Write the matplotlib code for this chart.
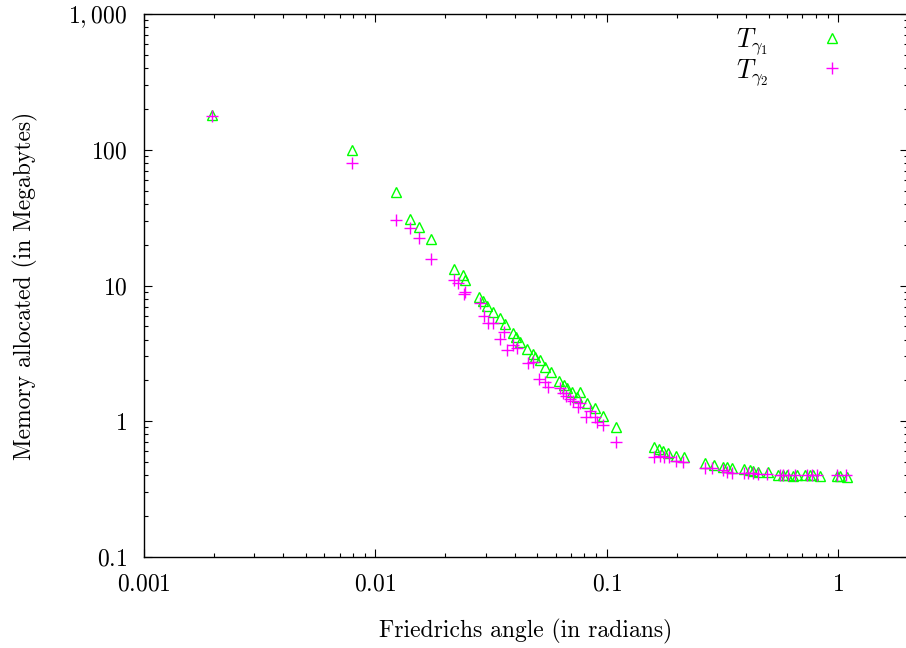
import matplotlib
matplotlib.use("Agg")
import matplotlib.pyplot as plt
from matplotlib.ticker import FixedLocator, FixedFormatter, LogLocator, NullFormatter

plt.rcParams['font.family'] = ['cmr10', 'DejaVu Sans']
plt.rcParams['mathtext.fontset'] = 'cm'
plt.rcParams['axes.formatter.use_mathtext'] = True

# angle (rad) / memory (MB)
g1_angle = [0.00197, 0.00792, 0.01227, 0.01409, 0.01541, 0.01731, 0.02195, 0.02380,
            0.02440, 0.02813, 0.02905, 0.03040, 0.03227, 0.03450, 0.03626, 0.03926,
            0.04065, 0.04209, 0.04524, 0.04776, 0.04887, 0.05136, 0.05398, 0.05712,
            0.06223, 0.06521, 0.06738, 0.07039, 0.07645, 0.07442, 0.08222, 0.08876,
            0.09581, 0.1094, 0.1596, 0.1682, 0.1740, 0.1840, 0.1987, 0.2158,
            0.2651, 0.2899, 0.3161, 0.3290, 0.3457, 0.3917, 0.4146, 0.4285,
            0.4503, 0.4974, 0.5495, 0.5741, 0.5974, 0.6379, 0.6597, 0.7166,
            0.7532, 0.7785, 0.8319, 0.982, 1.015, 1.085]
g1_mem = [180.3, 99.6, 48.8, 30.9, 26.97, 21.9, 13.2, 11.85,
          10.98, 8.20, 7.73, 7.10, 6.41, 5.73, 5.20, 4.47,
          4.20, 3.85, 3.41, 3.13, 2.96, 2.83, 2.52, 2.29,
          1.99, 1.85, 1.75, 1.65, 1.65, 1.52, 1.36, 1.245,
          1.093, 0.907, 0.644, 0.625, 0.607, 0.581, 0.557, 0.543,
          0.490, 0.476, 0.463, 0.458, 0.450, 0.443, 0.437, 0.432,
          0.425, 0.425, 0.40, 0.40, 0.40, 0.395, 0.40, 0.40,
          0.40, 0.40, 0.395, 0.395, 0.395, 0.39]

g2_angle = [0.00197, 0.00792, 0.01227, 0.01409, 0.01541, 0.01731, 0.02190, 0.02265,
            0.02404, 0.02442, 0.02828, 0.02951, 0.03071, 0.03227, 0.03450, 0.03590,
            0.03687, 0.03937, 0.04085, 0.04571, 0.04803, 0.05101, 0.05398, 0.05577,
            0.06266, 0.06475, 0.06651, 0.06921, 0.07151, 0.07516, 0.07645, 0.08116,
            0.08445, 0.08876, 0.09027, 0.09638, 0.1094, 0.1596, 0.1694, 0.1763,
            0.1858, 0.1987, 0.2136, 0.2651, 0.2834, 0.3161, 0.3309, 0.3457,
            0.3917, 0.4077, 0.4285, 0.4503, 0.4924, 0.5588, 0.5775, 0.6070,
            0.6487, 0.7289, 0.7661, 0.8049, 0.982, 1.074]
g2_mem = [178, 80, 30.4, 26.5, 22.3, 15.6, 11.0, 10.5,
          8.70, 9.00, 7.39, 5.96, 5.32, 5.32, 4.02, 4.57,
          3.33, 3.65, 3.45, 2.67, 2.75, 2.04, 1.96, 1.78,
          1.75, 1.61, 1.53, 1.45, 1.42, 1.27, 1.37, 1.07,
          1.18, 1.07, 0.99, 0.938, 0.707, 0.543, 0.555, 0.549,
          0.543, 0.512, 0.504, 0.455, 0.450, 0.437, 0.425, 0.414,
          0.418, 0.414, 0.414, 0.407, 0.409, 0.405, 0.405, 0.405,
          0.405, 0.405, 0.405, 0.405, 0.405, 0.40]

xticks = [0.001, 0.01, 0.1, 1]
xlabels = ['$0.001$', '$0.01$', '$0.1$', '$1$']
yticks = [0.1, 1, 10, 100, 1000]
ylabels = ['$0.1$', '$1$', '$10$', '$100$', '$1,000$']

fig = plt.figure(figsize=(9.06, 6.48), dpi=100)
ax = fig.add_axes([144/906, 91/648, 764/906, 543/648])

ax.plot(g1_angle, g1_mem, linestyle='none', marker='^', markersize=7,
        markerfacecolor='none', markeredgecolor='#00ff00', markeredgewidth=1.0,
        label=r'$T_{\gamma_1}$')
ax.plot(g2_angle, g2_mem, linestyle='none', marker='+', markersize=8,
        markeredgecolor='#ff00ff', markeredgewidth=1.0,
        label=r'$T_{\gamma_2}$')

ax.set_xscale('log')
ax.set_yscale('log')
ax.set_xlim(0.001, 2)
ax.set_ylim(0.1, 1000)

ax.xaxis.set_major_locator(FixedLocator(xticks))
ax.xaxis.set_major_formatter(FixedFormatter(xlabels))
ax.yaxis.set_major_locator(FixedLocator(yticks))
ax.yaxis.set_major_formatter(FixedFormatter(ylabels))
ax.xaxis.set_minor_locator(LogLocator(base=10, subs=range(2, 10)))
ax.yaxis.set_minor_locator(LogLocator(base=10, subs=range(2, 10)))
ax.xaxis.set_minor_formatter(NullFormatter())
ax.yaxis.set_minor_formatter(NullFormatter())

ax.tick_params(which='both', direction='in', top=True, right=True, labelsize=17)
ax.tick_params(which='major', length=6, width=0.8, pad=12)
ax.tick_params(which='minor', length=3, width=0.8)
for s in ax.spines.values():
    s.set_linewidth(1.0)

ax.set_xlabel('Friedrichs angle (in radians)', fontsize=17, labelpad=17)
ax.set_ylabel('Memory allocated (in Megabytes)', fontsize=17, labelpad=22)

ax.legend(loc='upper right', bbox_to_anchor=(0.949, 0.997), frameon=False,
          markerfirst=False, fontsize=19, handlelength=2.0,
          handletextpad=1.4, labelspacing=0.0, borderaxespad=0.0)

fig.savefig('out.png', dpi=100)
